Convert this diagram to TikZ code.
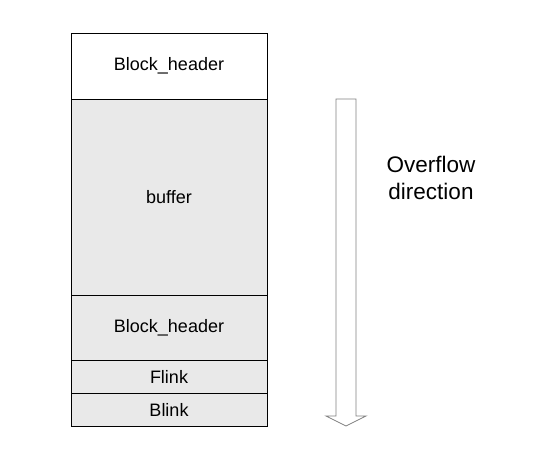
\documentclass[tikz,border=0pt]{standalone}
\usepackage{fontspec}
\setmainfont{Liberation Sans}
\usetikzlibrary{positioning}
\definecolor{cellgray}{HTML}{E9E9E9}
\definecolor{arrowgray}{HTML}{808080}
\tikzset{
  cell/.style={draw, line width=0.8pt, minimum width=196pt, inner sep=0pt, outer sep=0pt,
    font=\fontsize{18}{21}\selectfont},
  graycell/.style={cell, fill=cellgray}
}
\begin{document}
\begin{tikzpicture}[x=1pt,y=-1pt]
      \useasboundingbox (0,0) rectangle (534,457);

      % heap block layout
      \node[cell, minimum height=66pt] (hdr) at (169,66) {Block\_header};
      \node[graycell, minimum height=196pt, below=0pt of hdr] (buf) {buffer};
      \node[graycell, minimum height=65pt, below=0pt of buf] (hdrnext) {Block\_header};
      \node[graycell, minimum height=33pt, below=0pt of hdrnext] (flink) {Flink};
      \node[graycell, minimum height=33pt, below=0pt of flink] (blink) {Blink};

      % overflow arrow
      \draw[arrowgray, line width=0.8pt, fill=white]
        (336,99) -- (356,99) -- (356,416) -- (366,416) -- (346,426)
        -- (326,416) -- (336,416) -- cycle;
      \node[align=center, font=\fontsize{22.5}{27}\selectfont] (dir) at (431,178)
        {Overflow\\direction};
\end{tikzpicture}
\end{document}
